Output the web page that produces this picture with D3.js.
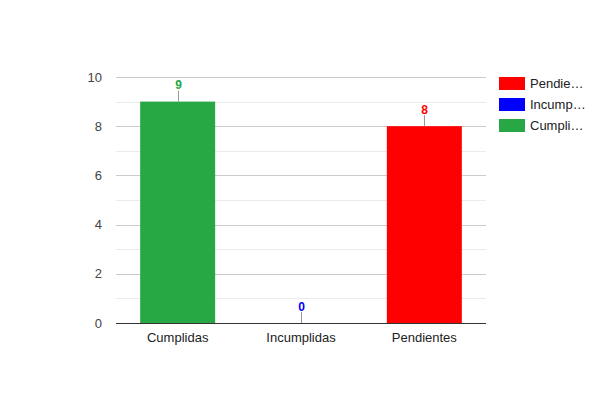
<!DOCTYPE html>
<html>
<head>
<meta charset="utf-8">
<script src="https://cdn.jsdelivr.net/npm/d3@7"></script>
<style>
	body { margin: 0; background: #fff; }
	svg { font-family: "Liberation Sans", Arial, Helvetica, sans-serif; }
</style>
</head>
<body>
<svg id="chart"></svg>
<script>
(function() {

	// data
	var categories = ['Cumplidas', 'Incumplidas', 'Pendientes'];
	var values = [9, 0, 8];
	var barColors = ['#28a745', '#0000ff', '#ff0000'];
	var yTicks = [0, 2, 4, 6, 8, 10];
	var legendOrder = ['Pendientes', 'Incumplidas', 'Cumplidas'];

	var width = 600,
		height = 400,
		left = 116,
		right = 486,
		top = 77,
		bottom = 323;

	var svg = d3.select("#chart")
		.attr("width", width)
		.attr("height", height)

	var x = d3.scaleBand()
		.domain(categories)
		.range([left, right])
		.paddingInner(0.392)
		.paddingOuter(0.196);

	var y = d3.scaleLinear()
		.domain([0, 10])
		.range([bottom, top]);

	var color = d3.scaleOrdinal()
		.domain(categories)
		.range(barColors);

	// minor gridlines
	svg.append("g")
		.selectAll("line")
		.data(d3.range(1, 10, 2))
		.enter().append("line")
		.attr("x1", left)
		.attr("x2", right)
		.attr("y1", function(d) { return Math.round(y(d)) + 0.5; })
		.attr("y2", function(d) { return Math.round(y(d)) + 0.5; })
		.style("stroke", "#ebebeb")
		.style("stroke-width", "1px");

	// y axis with major gridlines
	var yAxis = d3.axisLeft(y)
		.tickValues(yTicks)
		.tickSize(-(right - left))
		.tickPadding(14);

	svg.append("g")
		.attr("class", "y axis")
		.attr("transform", "translate(" + left + ",0)")
		.call(yAxis)
		.call(function(g) {
			g.select(".domain").remove();
			g.selectAll(".tick line")
				.style("stroke", "#cccccc")
				.style("shape-rendering", "crispEdges");
			g.selectAll(".tick text")
				.style("font-size", "13px")
				.style("fill", "#444444")
				.style("font-family", "Liberation Sans, Arial");
		});

	// bars
	svg.selectAll("rect.bar")
		.data(categories)
		.enter().append("rect")
		.attr("class", "bar")
		.attr("x", function(d) { return x(d); })
		.attr("width", x.bandwidth())
		.attr("y", function(d, i) { return y(values[i]); })
		.attr("height", function(d, i) { return y(0) - y(values[i]); })
		.style("fill", function(d) { return color(d); });

	// baseline
	svg.append("line")
		.attr("x1", left)
		.attr("x2", right)
		.attr("y1", y(0) + 0.5)
		.attr("y2", y(0) + 0.5)
		.style("stroke", "#333333")
		.style("stroke-width", "1px");

	// leader lines and value labels
	var labels = svg.selectAll("g.label")
		.data(categories)
		.enter().append("g")
		.attr("class", "label")
		.attr("transform", function(d, i) {
			return "translate(" + (Math.round(x(d) + x.bandwidth() / 2) + 0.5) + "," + y(values[i]) + ")";
		});

	labels.append("line")
		.attr("y1", 0)
		.attr("y2", -11)
		.style("stroke", "#999999")
		.style("stroke-width", "1px");

	labels.append("text")
		.attr("y", -12.5)
		.style("text-anchor", "middle")
		.style("font-size", "12px")
		.style("font-weight", "bold")
		.style("fill", function(d) { return color(d); })
		.text(function(d, i) { return values[i]; });

	// x axis labels
	var xAxis = d3.axisBottom(x).tickSize(0).tickPadding(10);

	svg.append("g")
		.attr("class", "x axis")
		.attr("transform", "translate(0," + bottom + ")")
		.call(xAxis)
		.call(function(g) {
			g.select(".domain").remove();
			g.selectAll(".tick text")
				.style("font-size", "13px")
				.style("fill", "#222222")
				.style("font-family", "Liberation Sans, Arial");
		});

	// legend
	var legend = svg.selectAll("g.legend")
		.data(legendOrder)
		.enter().append("g")
		.attr("class", "legend")
		.attr("transform", function(d, i) { return "translate(499," + (77 + i * 21) + ")"; });

	legend.append("rect")
		.attr("width", 26)
		.attr("height", 13)
		.style("fill", function(d) { return color(d); });

	legend.append("text")
		.attr("x", 31)
		.attr("y", 11)
		.style("font-size", "13px")
		.style("fill", "#222222")
		.text(function(d) { return d; })
		.each(function(d) {
			// truncate to available width with ellipsis
			var t = d3.select(this), s = d, maxW = 56;
			while (this.getComputedTextLength() > maxW && s.length > 1) {
				s = s.slice(0, -1);
				t.text(s + "\u2026");
			}
		});

})();
</script>
</body>
</html>
